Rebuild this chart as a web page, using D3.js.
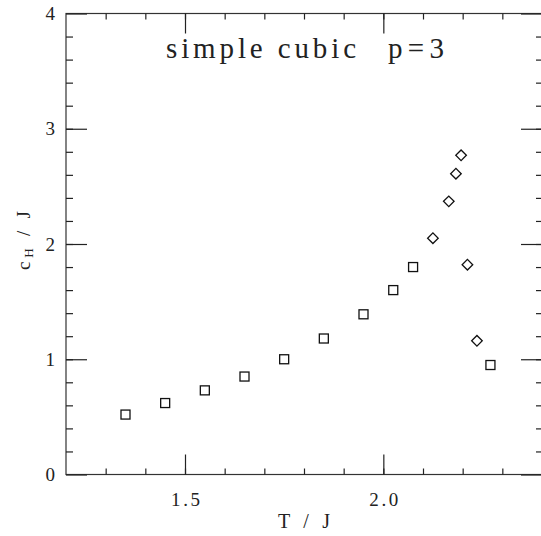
<!DOCTYPE html>
<html>
<head>
<meta charset="utf-8">
<script src="https://cdn.jsdelivr.net/npm/d3@7"></script>
<style>
  body { margin: 0; background: #fff; }
  svg { display: block; }
  .axis path { display: none; }
  .axis line { stroke: #222; stroke-width: 1.2; }
  .axis text { font-family: "Liberation Serif", serif; font-size: 19px; fill: #222; }
</style>
</head>
<body>
<script>
// square points (lower branch)
const squareT = [1.35, 1.45, 1.55, 1.65, 1.75, 1.85, 1.95, 2.025, 2.075, 2.27];
const squareC = [0.52, 0.62, 0.73, 0.85, 1.00, 1.18, 1.39, 1.60, 1.80, 0.95];
// diamond points (near the peak)
const diamondT = [2.125, 2.165, 2.183, 2.196, 2.212, 2.236];
const diamondC = [2.05, 2.37, 2.61, 2.77, 1.82, 1.16];

const xMajor = [1.5, 2.0];
const xMinor = d3.range(13, 24).map(d => d / 10);
const yMajor = [0, 1, 2, 3, 4];
const yMinor = d3.range(1, 20).map(d => d / 5);

const W = 541, H = 536;
const m = {left: 66, right: 542, top: 13.5, bottom: 474.5};

const x = d3.scaleLinear().domain([1.2, 2.4]).range([m.left, m.right]);
const y = d3.scaleLinear().domain([0, 4]).range([m.bottom, m.top]);

const svg = d3.select('body').append('svg').attr('width', W).attr('height', H);

// frame
svg.append('rect')
  .attr('x', m.left).attr('y', m.top)
  .attr('width', m.right - m.left).attr('height', m.bottom - m.top)
  .attr('fill', 'none').attr('stroke', '#333').attr('stroke-width', 1.2);

const noLabel = () => '';

// bottom
svg.append('g').attr('class', 'axis').attr('transform', `translate(0,${m.bottom})`)
  .call(d3.axisBottom(x).tickValues(xMinor).tickSizeInner(-6).tickSizeOuter(0).tickFormat(noLabel));
const bx = svg.append('g').attr('class', 'axis').attr('transform', `translate(0,${m.bottom})`)
  .call(d3.axisBottom(x).tickValues(xMajor).tickSizeInner(-20).tickSizeOuter(0).tickPadding(18)
    .tickFormat(d3.format('.1f')));
bx.selectAll('text').attr('textLength', 29).attr('lengthAdjust', 'spacing');

// top
svg.append('g').attr('class', 'axis').attr('transform', `translate(0,${m.top})`)
  .call(d3.axisTop(x).tickValues(xMinor).tickSizeInner(-6).tickSizeOuter(0).tickFormat(noLabel));
svg.append('g').attr('class', 'axis').attr('transform', `translate(0,${m.top})`)
  .call(d3.axisTop(x).tickValues(xMajor).tickSizeInner(-20).tickSizeOuter(0).tickFormat(noLabel));

// left
svg.append('g').attr('class', 'axis').attr('transform', `translate(${m.left},0)`)
  .call(d3.axisLeft(y).tickValues(yMinor).tickSizeInner(-7).tickSizeOuter(0).tickFormat(noLabel));
svg.append('g').attr('class', 'axis').attr('transform', `translate(${m.left},0)`)
  .call(d3.axisLeft(y).tickValues(yMajor).tickSizeInner(-21).tickSizeOuter(0).tickPadding(11)
    .tickFormat(d3.format('d')));

// right
svg.append('g').attr('class', 'axis').attr('transform', `translate(${m.right},0)`)
  .call(d3.axisRight(y).tickValues(yMinor).tickSizeInner(-6).tickSizeOuter(0).tickFormat(noLabel));
svg.append('g').attr('class', 'axis').attr('transform', `translate(${m.right},0)`)
  .call(d3.axisRight(y).tickValues(yMajor).tickSizeInner(-21).tickSizeOuter(0).tickFormat(noLabel));

// points
const sq = d3.zip(squareT, squareC);
const dm = d3.zip(diamondT, diamondC);

svg.append('g').selectAll('rect').data(sq).join('rect')
  .attr('x', d => x(d[0]) - 4.5).attr('y', d => y(d[1]) - 4.5)
  .attr('width', 9).attr('height', 9)
  .attr('fill', 'none').attr('stroke', '#111').attr('stroke-width', 1.3);

const dsym = d3.symbol().type(d3.symbolSquare).size(56);
svg.append('g').selectAll('path').data(dm).join('path')
  .attr('d', dsym)
  .attr('transform', d => `translate(${x(d[0])},${y(d[1])}) rotate(45)`)
  .attr('fill', 'none').attr('stroke', '#111').attr('stroke-width', 1.3);

// title
const title = svg.append('g').attr('font-family', '"Liberation Serif", serif')
  .attr('font-size', 29).attr('fill', '#222');
title.append('text').attr('x', 166).attr('y', 58)
  .attr('textLength', 190).attr('lengthAdjust', 'spacing').text('simple cubic');
title.append('text').attr('x', 388).attr('y', 58)
  .attr('textLength', 56).attr('lengthAdjust', 'spacing').text('p=3');

// axis titles
svg.append('text').attr('x', 278).attr('y', 528)
  .attr('font-family', '"Liberation Serif", serif').attr('font-size', 20).attr('fill', '#222')
  .attr('textLength', 52).attr('lengthAdjust', 'spacing')
  .text('T / J');

const yl = svg.append('text')
  .attr('transform', 'translate(30,270) rotate(-90)')
  .attr('font-family', '"Liberation Serif", serif').attr('font-size', 19).attr('fill', '#222')
  .attr('textLength', 59).attr('lengthAdjust', 'spacing');
yl.append('tspan').text('c');
yl.append('tspan').attr('font-size', 13).attr('dy', 3).text('H');
yl.append('tspan').attr('dy', -3).text(' / J');
</script>
</body>
</html>
